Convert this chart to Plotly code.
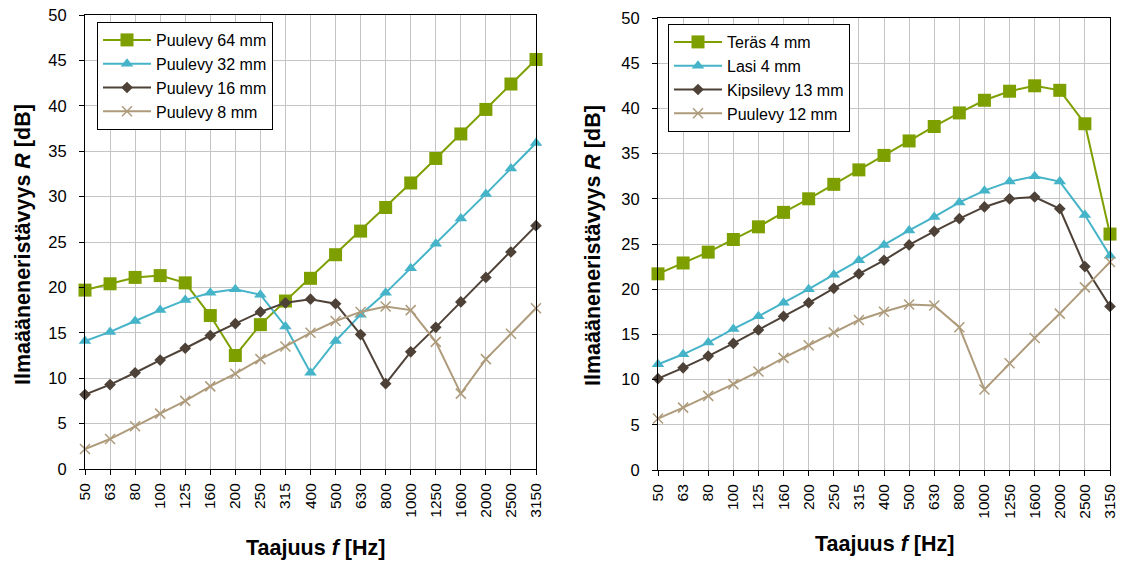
import plotly.graph_objects as go
from plotly.subplots import make_subplots

freqs = ["50", "63", "80", "100", "125", "160", "200", "250", "315", "400", "500",
         "630", "800", "1000", "1250", "1600", "2000", "2500", "3150"]

# Left chart
puu64 = [19.7, 20.4, 21.1, 21.3, 20.5, 16.9, 12.5, 15.9, 18.5, 21.0, 23.6,
         26.2, 28.8, 31.5, 34.2, 36.9, 39.6, 42.4, 45.1]
puu32 = [14.1, 15.1, 16.3, 17.5, 18.6, 19.4, 19.8, 19.2, 15.7, 10.6, 14.1,
         17.0, 19.4, 22.1, 24.8, 27.6, 30.3, 33.1, 35.9]
puu16 = [8.2, 9.3, 10.6, 12.0, 13.3, 14.7, 16.0, 17.3, 18.3, 18.7, 18.2,
         14.8, 9.4, 12.9, 15.6, 18.4, 21.1, 23.9, 26.8]
puu8 = [2.2, 3.3, 4.7, 6.1, 7.5, 9.1, 10.5, 12.1, 13.5, 15.0, 16.3,
        17.3, 17.9, 17.5, 14.0, 8.3, 12.1, 14.9, 17.7]

# Right chart
teras4 = [21.7, 22.9, 24.1, 25.5, 26.9, 28.5, 30.0, 31.6, 33.2, 34.8, 36.4,
          38.0, 39.5, 40.9, 41.9, 42.5, 42.0, 38.3, 26.1]
lasi4 = [11.7, 12.8, 14.1, 15.6, 17.0, 18.5, 20.0, 21.6, 23.2, 24.9, 26.5,
         28.0, 29.6, 30.9, 31.9, 32.5, 31.9, 28.2, 23.7]
kipsi13 = [10.1, 11.3, 12.6, 14.0, 15.5, 17.0, 18.5, 20.1, 21.7, 23.2, 24.9,
           26.4, 27.8, 29.1, 30.0, 30.2, 28.9, 22.5, 18.1]
puu12 = [5.7, 6.9, 8.2, 9.5, 10.9, 12.4, 13.8, 15.2, 16.6, 17.5, 18.3,
         18.2, 15.8, 8.9, 11.8, 14.6, 17.3, 20.2, 23.0]

left_names = ["Puulevy 64 mm", "Puulevy 32 mm", "Puulevy 16 mm", "Puulevy 8 mm"]
right_names = ["Teräs 4 mm", "Lasi 4 mm", "Kipsilevy 13 mm", "Puulevy 12 mm"]

colors = ["#7E9F00", "#45B3C8", "#4E4238", "#AE9B7B"]
symbols = ["square", "triangle-up", "diamond", "x-thin"]
msizes = [13, 11, 9, 10]

FONT = "Liberation Sans, Arial, sans-serif"
W, H = 1122, 563

fig = make_subplots(rows=1, cols=2)

for col, (series, names, leg) in enumerate(
        [([puu64, puu32, puu16, puu8], left_names, "legend"),
         ([teras4, lasi4, kipsi13, puu12], right_names, "legend2")], start=1):
    for i, (vals, name) in enumerate(zip(series, names)):
        sym = symbols[i]
        marker = dict(symbol=sym, size=msizes[i], color=colors[i])
        if sym == "x-thin":
            marker["line"] = dict(color=colors[i], width=1.5)
        fig.add_trace(go.Scatter(
            x=freqs, y=vals, name=name, mode="lines+markers",
            line=dict(color=colors[i], width=2),
            marker=marker, cliponaxis=False, legend=leg,
        ), row=1, col=col)

ydom_l = [1 - 469 / H, 1 - 15 / H]
ydom_r = [1 - 470 / H, 1 - 18 / H]
axis_common = dict(showline=True, linecolor="black", linewidth=1, mirror=True,
                   gridcolor="#C4C4C4", gridwidth=1, ticks="outside", ticklen=5,
                   tickcolor="black", zeroline=False, automargin=False)

fig.update_xaxes(type="category", categoryorder="array", categoryarray=freqs,
                 range=[0, 18], tickangle=-90, ticklabelstandoff=2,
                 tickfont=dict(family=FONT, size=15.5, color="black"),
                 **axis_common)
fig.update_yaxes(range=[0, 50], dtick=5, ticklabelstandoff=9,
                 tickfont=dict(family=FONT, size=16.5, color="black"),
                 **axis_common)
fig.update_xaxes(domain=[85 / W, 536 / W], row=1, col=1)
fig.update_xaxes(domain=[658 / W, 1110 / W], row=1, col=2)
fig.update_yaxes(domain=ydom_l, row=1, col=1)
fig.update_yaxes(domain=ydom_r, row=1, col=2)

legend_common = dict(bgcolor="white", bordercolor="black", borderwidth=1,
                     font=dict(family=FONT, size=16, color="black"),
                     xanchor="left", yanchor="top", tracegroupgap=0,
                     itemwidth=48)
fig.update_layout(
    legend=dict(x=97 / W, y=1 - 22 / H, **legend_common),
    legend2=dict(x=668 / W, y=1 - 24 / H, **legend_common),
)

ytitle = "<b>Ilmaääneneristävyys <i>R</i> [dB]</b>"
xtitle = "<b>Taajuus <i>f</i> [Hz]</b>"
tfont = dict(family=FONT, size=21.5, color="black")
annotations = [
    dict(text=ytitle, x=23 / W, y=1 - 245 / H, textangle=-90),
    dict(text=ytitle, x=593 / W, y=1 - 246 / H, textangle=-90),
    dict(text=xtitle, x=315 / W, y=1 - 548 / H),
    dict(text=xtitle, x=884 / W, y=1 - 544 / H),
]
for a in annotations:
    fig.add_annotation(xref="paper", yref="paper", showarrow=False,
                       xanchor="center", yanchor="middle", font=tfont, **a)

fig.update_layout(
    width=W, height=H, margin=dict(l=0, r=0, t=0, b=0, autoexpand=False),
    paper_bgcolor="white", plot_bgcolor="white",
    font=dict(family=FONT, color="black"),
)

fig.write_html(
    "out.html",
    config={"displayModeBar": False},
    post_script="document.body.style.margin='0px';"
                "document.body.style.overflow='hidden';",
)
